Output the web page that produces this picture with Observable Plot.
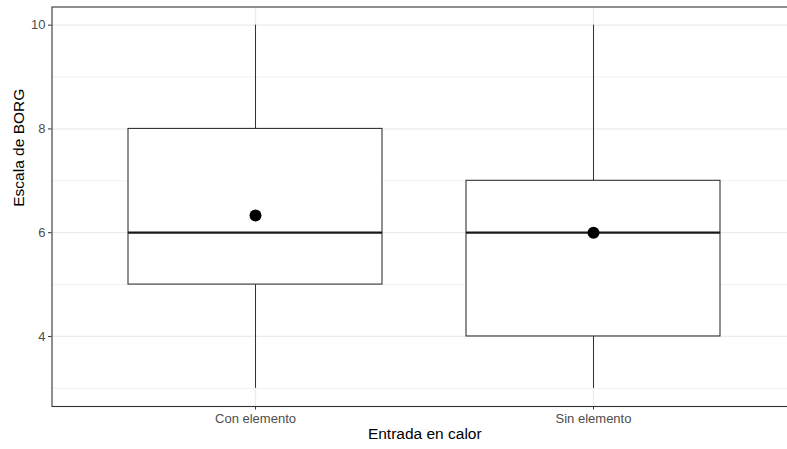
<!DOCTYPE html>
<html>
<head>
<meta charset="utf-8">
<script src="https://cdn.jsdelivr.net/npm/d3@7"></script>
<script src="https://cdn.jsdelivr.net/npm/@observablehq/plot@0.6"></script>
<style>
  html, body { margin: 0; padding: 0; background: #fff; }
  #chart svg { display: block; }
</style>
</head>
<body>
<div id="chart"></div>
<script>
const categories = ["Con elemento", "Sin elemento"];
const mins    = [3, 3];
const q1s     = [5, 4];
const medians = [6, 6];
const q3s     = [8, 7];
const maxs    = [10, 10];
const means   = [6.33, 6.0];
const yMajorTicks = [4, 6, 8, 10];
const yMinorTicks = [3, 5, 7, 9];
const xTitle = "Entrada en calor";
const yTitle = "Escala de BORG";

const data = categories.map((c, i) => ({
  cat: c, min: mins[i], q1: q1s[i], median: medians[i], q3: q3s[i], max: maxs[i], mean: means[i]
}));

const chart = Plot.plot({
  width: 787,
  height: 449,
  marginLeft: 51.5,
  marginRight: -10,
  marginTop: 6.5,
  marginBottom: 43,
  style: { fontFamily: "'Liberation Sans', Arial, sans-serif", fontSize: "13px", background: "#fff" },
  x: { type: "band", domain: categories, range: [51.5, 796.6], paddingInner: 0.25, paddingOuter: 0.225, axis: null },
  y: { domain: [2.65, 10.35], range: [406, 6.5], axis: null },
  marks: [
    Plot.ruleY(yMinorTicks, { stroke: "#ebebeb", strokeWidth: 0.7 }),
    Plot.ruleY(yMajorTicks, { stroke: "#ebebeb", strokeWidth: 1.3 }),
    Plot.ruleX(categories, { x: d => d, stroke: "#ebebeb", strokeWidth: 1.3 }),
    Plot.ruleX(data, { x: "cat", y1: "min", y2: "q1", stroke: "#333", strokeWidth: 1 }),
    Plot.ruleX(data, { x: "cat", y1: "q3", y2: "max", stroke: "#333", strokeWidth: 1 }),
    Plot.barY(data, { x: "cat", y1: "q1", y2: "q3", fill: "white", stroke: "#333", strokeWidth: 1.1 }),
    Plot.tickY(data, { x: "cat", y: "median", stroke: "#1a1a1a", strokeWidth: 2.2 }),
    Plot.dot(data, { x: "cat", y: "mean", r: 6, fill: "black", stroke: "none" }),
    Plot.frame({ stroke: "#333", strokeWidth: 1.1 }),
    Plot.axisY(yMajorTicks, { tickSize: 3.5, tickPadding: 3, stroke: "#333", fill: "#4d4d4d", fontSize: 13, label: null, tickFormat: d => String(d) }),
    Plot.axisX(categories, { tickSize: 3.5, tickPadding: 4, stroke: "#333", fill: "#4d4d4d", fontSize: 13, label: null }),
    Plot.text([xTitle], { text: d => d, frameAnchor: "bottom", dy: 32, fill: "black", fontSize: 15.5 }),
    Plot.text([yTitle], { text: d => d, frameAnchor: "left", dx: -33, rotate: -90, fill: "black", fontSize: 15.5 })
  ]
});
document.getElementById("chart").appendChild(chart);
</script>
</body>
</html>
